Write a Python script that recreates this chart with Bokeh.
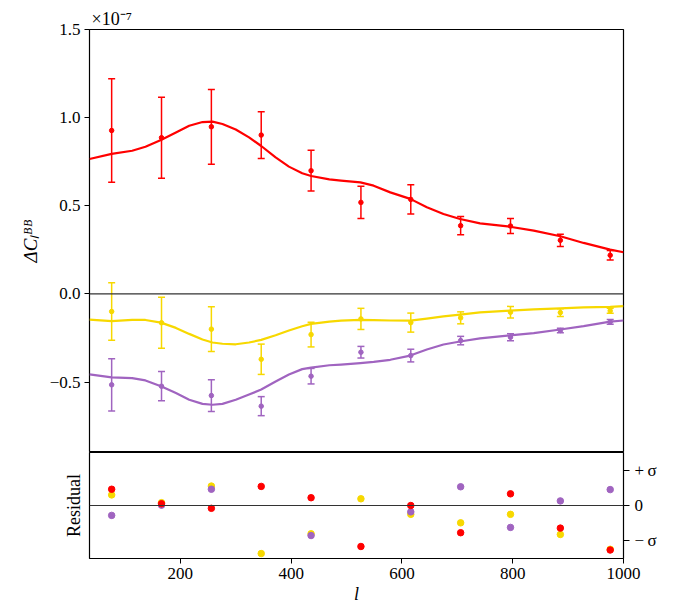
from bokeh.plotting import figure
from bokeh.layouts import column
from bokeh.models import Range1d, LinearAxis, Span, FixedTicker
from bokeh.embed import file_html
from bokeh.resources import INLINE

# ---- data (values in units of 1e-7) ----
l_bins = [76, 166, 256, 346, 436, 526, 616, 706, 796, 886, 976]

red_y = [0.927, 0.886, 0.948, 0.901, 0.699, 0.519, 0.536, 0.387, 0.385, 0.304, 0.219]
red_err = [0.293, 0.230, 0.212, 0.133, 0.116, 0.092, 0.083, 0.052, 0.042, 0.035, 0.027]
yellow_y = [-0.100, -0.164, -0.200, -0.371, -0.231, -0.142, -0.163, -0.136, -0.104, -0.106, -0.096]
yellow_err = [0.163, 0.145, 0.127, 0.086, 0.070, 0.060, 0.054, 0.034, 0.033, 0.022, 0.014]
purple_y = [-0.516, -0.524, -0.577, -0.637, -0.467, -0.331, -0.350, -0.265, -0.246, -0.208, -0.159]
purple_err = [0.148, 0.083, 0.090, 0.054, 0.044, 0.033, 0.036, 0.024, 0.020, 0.013, 0.013]

l_curve = [36, 76, 113, 137, 165, 192, 216, 240, 258, 276, 300, 324, 346, 372, 396,
           420, 436, 469, 490, 525, 549, 579, 615, 645, 675, 705, 741, 795, 838, 886,
           928, 976, 1000]
red_curve = [0.765, 0.794, 0.812, 0.835, 0.873, 0.916, 0.954, 0.975, 0.977, 0.964, 0.933,
             0.888, 0.839, 0.774, 0.722, 0.684, 0.669, 0.650, 0.643, 0.633, 0.614, 0.576,
             0.539, 0.491, 0.453, 0.425, 0.400, 0.381, 0.359, 0.327, 0.289, 0.251, 0.236]
yellow_curve = [-0.146, -0.155, -0.147, -0.148, -0.163, -0.193, -0.227, -0.259, -0.276,
                -0.283, -0.286, -0.276, -0.261, -0.235, -0.208, -0.184, -0.170, -0.157,
                -0.152, -0.148, -0.149, -0.151, -0.152, -0.140, -0.128, -0.118, -0.105,
                -0.095, -0.088, -0.082, -0.077, -0.074, -0.070]
purple_curve = [-0.457, -0.474, -0.478, -0.491, -0.524, -0.563, -0.601, -0.624, -0.629,
                -0.624, -0.601, -0.571, -0.543, -0.497, -0.457, -0.427, -0.418, -0.405,
                -0.401, -0.393, -0.386, -0.374, -0.350, -0.316, -0.287, -0.270, -0.252,
                -0.236, -0.223, -0.202, -0.183, -0.157, -0.151]

# residuals in units of sigma (values beyond +-1.5 fall outside the panel)
red_res = [0.46, 0.05, -0.08, 0.54, 0.22, -1.16, 0.00, -0.77, 0.33, -0.64, -1.26]
yellow_res = [0.30, 0.08, 0.55, -1.36, -0.80, 0.19, -0.25, -0.49, -0.25, -0.82, -1.24]
purple_res = [-0.28, 0.01, 0.46, -1.65, -0.85, 1.82, -0.18, 0.53, -0.62, 0.13, 0.45]

y_ticks = [-0.5, 0.0, 0.5, 1.0, 1.5]
y_tick_labels = ["\u22120.5", "0.0", "0.5", "1.0", "1.5"]
x_ticks = [200, 400, 600, 800, 1000]
res_ticks = [-1, 0, 1]
res_tick_labels = ["\u2212\u2009\u03c3", "0", "+\u2009\u03c3"]

RED = "#ff0000"
YELLOW = "#f7d800"
PURPLE = "#a064c0"
FONT = "Liberation Serif"
INK = "#000000"

xr = Range1d(36, 1000)


def style_axis(ax, tick_out=5, size="17px"):
    ax.minor_tick_line_color = None
    ax.major_tick_out = tick_out
    ax.major_tick_in = 0
    ax.major_tick_line_color = INK
    ax.axis_line_color = None
    ax.major_label_text_font = FONT
    ax.major_label_text_font_size = size
    ax.major_label_text_color = INK
    ax.axis_label_text_font = FONT
    ax.axis_label_text_color = INK
    ax.axis_label_text_font_size = "18px"


# ---- top panel ----
p1 = figure(width=683, height=452, output_backend="svg", toolbar_location=None,
            x_range=xr, y_range=Range1d(-0.9, 1.5),
            min_border_left=89, min_border_right=60, min_border_top=29, min_border_bottom=0)
p1.xaxis.visible = False
p1.grid.visible = False
p1.outline_line_color = INK
p1.outline_line_width = 1.2

p1.title.text = "\u00d710\u207b\u2077"
p1.title.text_font = FONT
p1.title.text_font_size = "18px"
p1.title.text_font_style = "normal"
p1.title.text_color = INK
p1.title.align = "left"
p1.title.offset = 2
p1.title.standoff = 1

ya = p1.yaxis[0]
style_axis(ya)
ya.ticker = FixedTicker(ticks=y_ticks)
ya.major_label_overrides = {t: s for t, s in zip(y_ticks, y_tick_labels)}
ya.major_label_standoff = 4
ya.axis_label = "\u0394C\u2097\u1d2e\u1d2e"
ya.axis_label_text_font_style = "italic"
ya.axis_label_text_font_size = "19px"
ya.axis_label_standoff = 6

p1.add_layout(Span(location=0, dimension="width", line_color="#333333", line_width=1.2))

for yv, err, curve, col in [(red_y, red_err, red_curve, RED),
                            (yellow_y, yellow_err, yellow_curve, YELLOW),
                            (purple_y, purple_err, purple_curve, PURPLE)]:
    lo = [a - e for a, e in zip(yv, err)]
    hi = [a + e for a, e in zip(yv, err)]
    p1.line(l_curve, curve, line_color=col, line_width=2.2, line_join="round")
    p1.segment(l_bins, lo, l_bins, hi, line_color=col, line_width=1.5)
    p1.scatter(l_bins, lo, marker="dash", size=7, line_color=col, line_width=1.5)
    p1.scatter(l_bins, hi, marker="dash", size=7, line_color=col, line_width=1.5)
    p1.scatter(l_bins, yv, size=4.5, fill_color=col, line_color=col)

# ---- residual panel ----
p2 = figure(width=683, height=154, output_backend="svg", toolbar_location=None,
            x_range=xr, y_range=Range1d(-1.5, 1.5),
            min_border_left=89, min_border_right=60, min_border_top=0, min_border_bottom=10)
p2.grid.visible = False
p2.outline_line_color = INK
p2.outline_line_width = 1.2

xa = p2.xaxis[0]
style_axis(xa)
xa.ticker = FixedTicker(ticks=x_ticks)
xa.major_label_standoff = 4
xa.axis_label = "l"
xa.axis_label_text_font_style = "italic"
xa.axis_label_standoff = 2

la = p2.yaxis[0]
style_axis(la, tick_out=0)
la.ticker = FixedTicker(ticks=[])
la.major_label_text_font_size = "0px"
la.major_label_standoff = 0
la.axis_label = "Residual"
la.axis_label_text_font_style = "normal"
la.axis_label_standoff = 6

ra = LinearAxis(ticker=FixedTicker(ticks=res_ticks),
                major_label_overrides={t: s for t, s in zip(res_ticks, res_tick_labels)})
style_axis(ra, tick_out=6)
ra.major_label_standoff = 5
p2.add_layout(ra, "right")

p2.add_layout(Span(location=0, dimension="width", line_color="#333333", line_width=1.2))

for res, col in [(yellow_res, YELLOW), (purple_res, PURPLE), (red_res, RED)]:
    p2.scatter(l_bins, res, size=6.5, fill_color=col, line_color=col)

layout = column(p1, p2, spacing=0)
open("out.html", "w").write(file_html(layout, INLINE))
